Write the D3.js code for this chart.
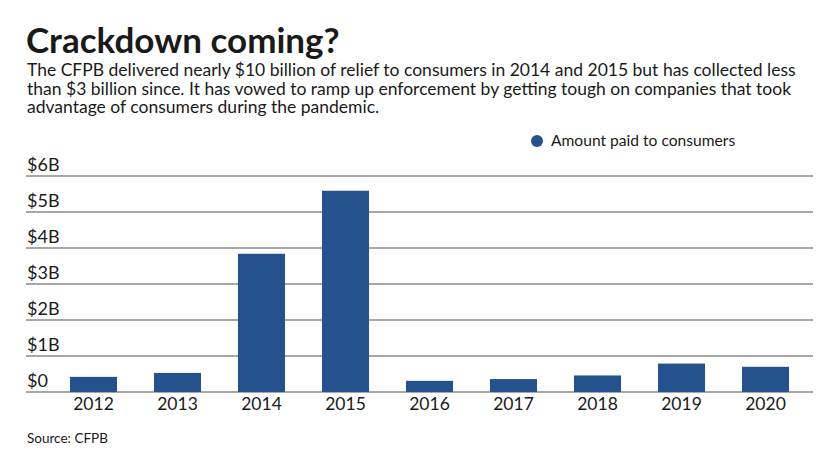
<!DOCTYPE html>
<html lang="en">
  <head>
    <meta charset="utf-8">
    <title>Crackdown coming?</title>
    <script src="https://cdn.jsdelivr.net/npm/d3@7"></script>
    <style>
      body { margin: 0; background: #fff; font-family: Lato, "Open Sans", sans-serif; }
      svg text { fill: #1a1a1a; }
    </style>
  </head>
  <body>
    <script>
      var years = ["2012","2013","2014","2015","2016","2017","2018","2019","2020"];
      var paid = [0.42, 0.53, 3.84, 5.59, 0.31, 0.36, 0.46, 0.79, 0.70]; // $ billions
      var yTicks = [0, 1, 2, 3, 4, 5, 6];
      var yTickLabels = ["$0","$1B","$2B","$3B","$4B","$5B","$6B"];
      var subtitle = [
        "The CFPB delivered nearly $10 billion of relief to consumers in 2014 and 2015 but has collected less",
        "than $3 billion since. It has vowed to ramp up enforcement by getting tough on companies that took",
        "advantage of consumers during the pandemic."
      ];

      var w = 840, h = 472;
      var svg = d3.select("body").append("svg")
        .attr("width", w)
        .attr("height", h);

      // title + subtitle
      svg.append("text")
        .attr("x", 26).attr("y", 53)
        .style("font-size", "35px").style("font-weight", 700)
        .text("Crackdown coming?");

      svg.selectAll(".sub")
        .data(subtitle)
        .enter().append("text")
        .attr("class", "sub")
        .attr("x", 27)
        .attr("y", function(d, i) { return 76 + i * 18.5; })
        .style("font-size", "17.5px")
        .text(function(d) { return d; });

      // scales
      var x = d3.scaleBand()
        .domain(years)
        .range([33, 826])
        .paddingInner(0.44)
        .paddingOuter(0.44);
      var y = d3.scaleLinear()
        .domain([0, 6])
        .range([392, 176]);

      // gridlines
      svg.append("g").selectAll("line")
        .data(yTicks)
        .enter().append("line")
        .attr("x1", 26).attr("x2", 813)
        .attr("y1", function(d) { return y(d); })
        .attr("y2", function(d) { return y(d); })
        .attr("stroke", "#8a8a8a")
        .attr("stroke-width", 1.5);

      svg.append("g").selectAll("text")
        .data(yTicks)
        .enter().append("text")
        .attr("x", 27)
        .attr("y", function(d) { return y(d) - 5; })
        .style("font-size", "18px")
        .text(function(d, i) { return yTickLabels[i]; });

      // bars
      svg.append("g").selectAll("rect")
        .data(paid)
        .enter().append("rect")
        .attr("x", function(d, i) { return x(years[i]); })
        .attr("width", x.bandwidth())
        .attr("y", function(d) { return y(d); })
        .attr("height", function(d) { return y(0) - y(d); })
        .attr("fill", "#25528c");

      // x axis labels
      var xAxis = d3.axisBottom(x).tickSize(0).tickPadding(0);
      var gx = svg.append("g")
        .attr("transform", "translate(0,392)")
        .call(xAxis);
      gx.select(".domain").remove();
      gx.selectAll("text")
        .attr("dy", "18px")
        .style("font-family", "Lato, sans-serif")
        .style("font-size", "17.5px")
        .style("fill", "#1a1a1a");

      // legend
      svg.append("circle")
        .attr("cx", 537).attr("cy", 141).attr("r", 6)
        .attr("fill", "#25528c");
      svg.append("text")
        .attr("x", 551).attr("y", 146)
        .style("font-size", "15.6px")
        .text("Amount paid to consumers");

      // source
      svg.append("text")
        .attr("x", 27).attr("y", 443)
        .style("font-size", "13.5px")
        .text("Source: CFPB");
    </script>
  </body>
</html>
